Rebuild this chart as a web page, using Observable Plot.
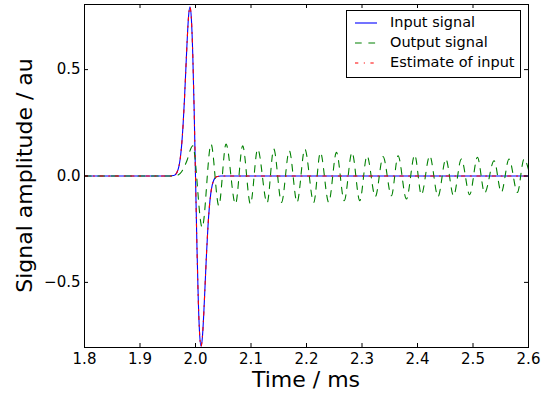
<!DOCTYPE html>
<html><head><meta charset="utf-8">
<script src="https://cdn.jsdelivr.net/npm/d3@7"></script>
<script src="https://cdn.jsdelivr.net/npm/@observablehq/plot@0.6"></script>
<style>
body{margin:0;background:#fff}
#chart{position:relative;width:548px;height:395px}
</style>
</head><body><div id="chart"></div>
<script>
// Input signal (blue, solid)
const inputTime = [1.80, 1.955, 1.96, 1.9625, 1.965, 1.9675, 1.97, 1.9725, 1.975, 1.9775, 1.98, 1.9825, 1.985, 1.9875, 1.99, 1.9925, 1.995, 1.9975, 2.0,
  2.0025, 2.005, 2.0075, 2.01, 2.0125, 2.015, 2.0175, 2.02, 2.0225, 2.025, 2.0275, 2.03, 2.0325, 2.035, 2.0375, 2.04, 2.045, 2.60];
const inputValue = [0, 0, 0.002, 0.004, 0.010, 0.022, 0.044, 0.082, 0.144, 0.235, 0.355, 0.496, 0.638, 0.750, 0.795, 0.742, 0.578, 0.318, 0.0,
  -0.320, -0.582, -0.746, -0.800, -0.755, -0.642, -0.499, -0.357, -0.236, -0.145, -0.083, -0.044, -0.022, -0.010, -0.004, -0.002, 0, 0];

// Output signal (green, dashed)
const outputTime = [1.80, 1.96, 1.968, 1.975, 1.98, 1.985, 1.99, 1.995, 2.012, 2.028, 2.042, 2.055, 2.072, 2.085, 2.099, 2.112, 2.129, 2.141, 2.155,
  2.169, 2.183, 2.197, 2.213, 2.225, 2.240, 2.254, 2.268, 2.282, 2.296, 2.309, 2.324, 2.338, 2.353, 2.365, 2.380, 2.395, 2.407,
  2.422, 2.437, 2.451, 2.465, 2.479, 2.494, 2.508, 2.521, 2.538, 2.551, 2.565, 2.580, 2.592, 2.60];
const outputValue = [0, 0, 0.004, 0.020, 0.045, 0.075, 0.118, 0.142, -0.242, 0.150, -0.140, 0.150, -0.132, 0.142, -0.132, 0.127, -0.127, 0.127, -0.124,
  0.119, -0.124, 0.127, -0.124, 0.111, -0.124, 0.111, -0.116, 0.111, -0.116, 0.095, -0.097, 0.091, -0.093, 0.095, -0.108, 0.099, -0.088,
  0.095, -0.097, 0.080, -0.093, 0.080, -0.088, 0.088, -0.080, 0.072, -0.077, 0.080, -0.077, 0.080, 0.030];

// Estimate of input (red, dash-dot)
const estimateTime = [1.80, 1.955, 1.96, 1.9625, 1.965, 1.9675, 1.97, 1.9725, 1.975, 1.9775, 1.98, 1.9825, 1.985, 1.9875, 1.99, 1.9925, 1.995, 1.9975, 2.0,
  2.0025, 2.005, 2.0075, 2.01, 2.0125, 2.015, 2.0175, 2.02, 2.0225, 2.025, 2.0275, 2.03, 2.0325, 2.035, 2.0375, 2.04, 2.045, 2.60];
const estimateValue = [0, 0, 0.002, 0.004, 0.010, 0.022, 0.044, 0.082, 0.144, 0.235, 0.355, 0.496, 0.638, 0.750, 0.795, 0.742, 0.578, 0.318, 0.0,
  -0.320, -0.582, -0.746, -0.800, -0.755, -0.642, -0.499, -0.357, -0.236, -0.145, -0.083, -0.044, -0.022, -0.010, -0.004, -0.002, 0, 0];

const xTicks = [1.8, 1.9, 2.0, 2.1, 2.2, 2.3, 2.4, 2.5, 2.6];
const yTicks = [-0.5, 0.0, 0.5];
const legendLabels = ["Input signal", "Output signal", "Estimate of input"];
const xLabel = "Time / ms";
const yLabel = "Signal amplitude / au";

const rows = (t, v) => t.map((d, i) => ({t: d, v: v[i]}));
const inputRows = rows(inputTime, inputValue);
const outputRows = rows(outputTime, outputValue);
const estimateRows = rows(estimateTime, estimateValue);

const W = 548, H = 395, mL = 84, mR = 20, mT = 4, mB = 48;
const innerW = W - mL - mR, innerH = H - mT - mB;
const font = "'DejaVu Sans', sans-serif";
const fmt = d3.format(".1f");

const plot = Plot.plot({
  width: W, height: H,
  marginLeft: mL, marginRight: mR, marginTop: mT, marginBottom: mB,
  style: {fontFamily: font, background: "#fff", color: "#000"},
  x: {domain: [1.8, 2.6]},
  y: {domain: [-0.806, 0.806]},
  marks: [
    Plot.line(inputRows, {x: "t", y: "v", stroke: "#0000ff", strokeWidth: 1.1, curve: "monotone-x", clip: true}),
    Plot.line(outputRows, {x: "t", y: "v", stroke: "#008000", strokeWidth: 1.1, strokeDasharray: "6.7,6.7", curve: "monotone-x", clip: true}),
    Plot.line(estimateRows, {x: "t", y: "v", stroke: "#ff0000", strokeWidth: 1.1, strokeDasharray: "3.3,5.5,1.1,5.5", curve: "monotone-x", clip: true}),
    Plot.tickX(xTicks, {x: d => d, insetTop: innerH - 4, stroke: "#000"}),
    Plot.tickX(xTicks, {x: d => d, insetBottom: innerH - 4, stroke: "#000"}),
    Plot.tickY(yTicks, {y: d => d, insetRight: innerW - 4, stroke: "#000"}),
    Plot.tickY(yTicks, {y: d => d, insetLeft: innerW - 4, stroke: "#000"}),
    Plot.axisX(xTicks, {tickSize: 0, tickPadding: 6, tickFormat: fmt, fontSize: 15, label: null}),
    Plot.axisY(yTicks, {tickSize: 0, tickPadding: 4, tickFormat: fmt, fontSize: 15, label: null}),
    Plot.frame({stroke: "#000", strokeWidth: 1})
  ]
});

const svg = d3.select(plot);

// Axis titles
svg.append("text")
  .attr("x", mL + innerW / 2).attr("y", 387)
  .attr("text-anchor", "middle").attr("font-family", font).attr("font-size", 22).attr("fill", "#000")
  .text(xLabel);
svg.append("text")
  .attr("transform", `translate(31.5,${mT + innerH / 2}) rotate(-90)`)
  .attr("text-anchor", "middle").attr("font-family", font).attr("font-size", 22).attr("fill", "#000")
  .text(yLabel);

// Legend (top-right box inside the plot)
const lg = svg.append("g").attr("font-family", font).attr("font-size", 14.5).attr("text-anchor", "start");
lg.append("rect").attr("x", 346.5).attr("y", 10.5).attr("width", 174).attr("height", 67)
  .attr("fill", "#fff").attr("stroke", "#000").attr("stroke-width", 1);
const legendStyles = [
  {stroke: "#0000ff", dash: null},
  {stroke: "#008000", dash: "6.7,6.7"},
  {stroke: "#ff0000", dash: "3.3,5.5,1.1,5.5"}
];
const rowY = [23, 43, 63];
legendLabels.forEach((label, i) => {
  lg.append("line").attr("x1", 355).attr("x2", 377).attr("y1", rowY[i]).attr("y2", rowY[i])
    .attr("stroke", legendStyles[i].stroke).attr("stroke-width", 1.1)
    .attr("stroke-dasharray", legendStyles[i].dash);
  lg.append("text").attr("x", 390).attr("y", rowY[i]).attr("dy", "0.25em").attr("fill", "#000").text(label);
});

document.getElementById("chart").appendChild(plot);
</script>
</body></html>
